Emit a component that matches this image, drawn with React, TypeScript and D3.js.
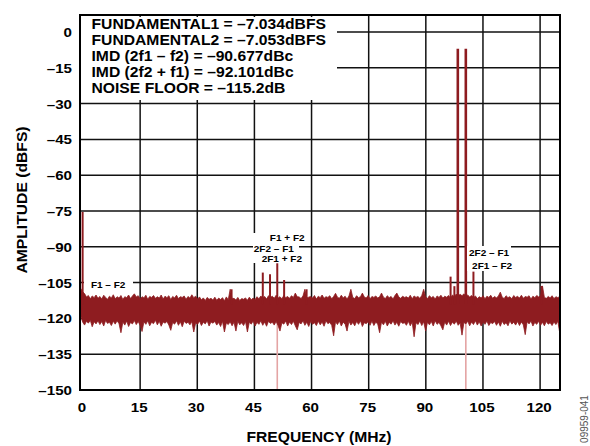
import React from "react";
import * as d3 from "d3";

// ---------- data ----------
const xTicks = [0, 15, 30, 45, 60, 75, 90, 105, 120];
const yTicks = [0, -15, -30, -45, -60, -75, -90, -105, -120, -135, -150];

const statsLines = [
  "FUNDAMENTAL1 = \u20137.034dBFS",
  "FUNDAMENTAL2 = \u20137.053dBFS",
  "IMD (2f1 \u2013 f2) = \u201390.677dBc",
  "IMD (2f2 + f1) = \u201392.101dBc",
  "NOISE FLOOR = \u2013115.2dB",
];

// noise floor envelope, sampled every ~0.5 MHz from -0.6 MHz
const NOISE_F0 = -0.6;
const NOISE_DF = 0.503;
const noiseHi = [
  -107.5, -108.8, -109.6, -111.0, -110.4, -111.8, -110.6, -111.3, -110.2, -111.6,
  -110.8, -111.9, -110.3, -111.2, -112.0, -110.7, -111.4, -110.1, -111.8, -110.9,
  -111.5, -110.4, -112.1, -110.9, -111.3, -110.2, -111.7, -110.6, -109.7, -111.0,
  -110.5, -111.8, -110.9, -111.4, -110.3, -112.0, -110.8, -111.2, -110.4, -111.6,
  -110.9, -111.5, -110.2, -111.9, -110.7, -111.3, -110.5, -112.1, -110.8, -111.4,
  -110.3, -111.7, -110.9, -111.2, -110.6, -112.0, -110.8, -111.5, -110.1, -111.3,
  -110.7, -111.9, -111.0, -112.2, -111.4, -112.5, -111.2, -112.0, -111.6, -112.3,
  -111.1, -112.4, -111.5, -112.1, -111.3, -112.6, -111.0, -112.2, -107.8, -111.8,
  -111.6, -112.3, -111.2, -112.5, -111.7, -112.0, -111.4, -112.4, -111.1, -112.2,
  -111.5, -112.1, -110.9, -111.8, -110.6, -111.4, -110.8, -111.9, -110.5, -111.2,
  -110.7, -111.6, -110.3, -111.5, -110.9, -111.8, -110.4, -111.3, -110.8, -111.6,
  -110.5, -111.2, -109.4, -110.9, -111.0, -111.7, -110.6, -107.8, -111.4, -111.1,
  -110.8, -111.5, -110.4, -111.9, -110.7, -111.3, -110.2, -111.6, -110.9, -111.2,
  -110.5, -111.8, -110.8, -109.5, -111.1, -111.6, -110.3, -111.4, -110.7, -111.9,
  -110.6, -107.8, -111.2, -111.7, -110.5, -111.3, -110.9, -109.4, -111.0, -111.5,
  -110.4, -111.8, -110.8, -111.2, -110.6, -111.5, -110.9, -109.4, -111.1, -111.7,
  -110.5, -111.3, -110.8, -111.9, -110.4, -109.4, -111.0, -111.6, -110.7, -111.2,
  -110.9, -111.5, -110.3, -111.8, -110.6, -111.2, -110.8, -111.6, -110.4, -107.8,
  -111.0, -111.7, -110.5, -111.3, -110.8, -111.9, -110.6, -111.2, -110.3, -111.5,
  -110.7, -111.1, -110.4, -111.6, -110.2, -110.9, -109.8, -110.6, -109.9, -110.5,
  -109.7, -110.8, -110.2, -111.0, -110.4, -111.3, -110.6, -111.7, -110.9, -111.4,
  -110.5, -111.8, -110.7, -111.2, -110.3, -111.6, -110.8, -111.4, -110.6, -109.0,
  -111.1, -111.7, -110.5, -111.3, -110.9, -111.8, -110.4, -111.2, -110.7, -111.5,
  -110.3, -111.6, -110.8, -111.1, -110.5, -111.9, -110.7, -111.3, -110.4, -111.0,
  -110.6, -106.4, -111.2, -111.6, -110.8, -111.4, -110.5, -111.7, -110.9, -111.3,
  -110.8,
];
const noiseLo = [
  -119.0, -121.5, -122.8, -121.2, -122.0, -120.8, -123.5, -121.4, -122.3, -121.0,
  -122.6, -121.3, -123.2, -120.9, -122.1, -121.6, -123.0, -121.2, -122.4, -121.0,
  -122.2, -126.0, -121.5, -122.8, -121.1, -123.4, -121.7, -122.3, -120.9, -122.6,
  -121.3, -122.9, -125.5, -121.4, -122.5, -121.0, -123.1, -121.6, -122.2, -120.8,
  -122.7, -121.2, -123.3, -121.5, -122.0, -121.3, -122.8, -125.0, -121.7, -122.4,
  -121.0, -122.9, -121.4, -123.5, -121.2, -122.1, -121.6, -122.7, -121.3, -125.7,
  -121.8, -122.5, -121.1, -123.0, -121.6, -122.3, -121.0, -123.2, -121.5, -122.0,
  -121.3, -122.8, -121.7, -123.4, -121.2, -125.7, -121.9, -122.6, -121.4, -123.1,
  -121.6, -125.3, -121.2, -122.7, -121.8, -123.0, -121.3, -125.7, -121.6, -122.4,
  -121.1, -123.2, -121.7, -122.5, -121.0, -122.9, -121.5, -123.3, -121.2, -122.1,
  -121.6, -122.8, -121.3, -123.0, -125.3, -121.8, -122.4, -121.1, -123.2, -121.5,
  -122.6, -121.2, -123.1, -124.8, -121.7, -122.3, -121.0, -122.9, -121.6, -123.4,
  -121.3, -122.5, -121.8, -123.0, -121.2, -122.7, -121.5, -123.3, -121.0, -122.2,
  -121.7, -122.9, -127.3, -121.4, -122.6, -121.1, -123.2, -121.6, -122.4, -125.3,
  -121.2, -122.8, -121.7, -123.1, -121.3, -122.5, -121.0, -123.4, -121.8, -122.2,
  -121.4, -122.9, -121.1, -123.0, -121.6, -122.3, -126.0, -121.5, -122.7, -121.2,
  -123.2, -121.7, -122.4, -121.0, -122.8, -121.6, -123.3, -121.3, -122.1, -121.8,
  -122.9, -121.2, -123.1, -121.5, -127.7, -121.8, -122.6, -121.1, -123.0, -121.4,
  -125.3, -121.6, -122.7, -121.3, -123.2, -121.0, -122.5, -121.7, -123.1, -124.8,
  -121.5, -122.8, -121.2, -123.0, -121.6, -122.4, -121.1, -122.9, -121.8, -127.0,
  -121.7, -122.3, -121.2, -123.1, -121.5, -122.6, -121.0, -122.8, -121.4, -123.2,
  -121.6, -122.5, -121.1, -123.0, -121.7, -122.2, -121.3, -122.9, -121.5, -123.3,
  -121.2, -122.6, -121.8, -123.1, -121.0, -122.4, -121.6, -122.8, -121.3, -123.0,
  -121.5, -122.7, -126.8, -121.4, -122.3, -121.1, -123.2, -121.7, -122.5, -121.2,
  -122.9, -121.6, -123.1, -121.3, -122.4, -121.8, -123.0, -121.5, -122.6, -121.2,
  -126.0,
];

// discrete spurs (MHz, dBFS)
const spurFreqs = [-0.1, 39.0, 47.2, 49.1, 51.0, 52.8, 58.7, 96.5, 97.5, 102.5, 120.4];
const spurLevels = [-75.4, -107.8, -100.8, -101.5, -96.9, -103.9, -107.8, -102.5, -106.5, -100.4, -106.4];
const fundFreqs = [98.4, 100.5];
const fundLevels = [-7.034, -7.053];
const markerFreqs = [51.0, 100.5];

const labelTexts = ["F1 \u2013 F2", "F1 + F2", "2F2 \u2013 F1", "2F1 + F2", "2F2 \u2013 F1", "2F1 \u2013 F2"];
const labelFreqs = [6.6, 53.6, 50.1, 52.2, 106.6, 107.4];
const labelLevels = [-106.0, -86.3, -90.7, -95.1, -92.5, -97.9];

// ---------- layout ----------
const W = 590, H = 446;
const L = 80, R = 560, T = 15, B = 390;
const RED = "#8e1c20";
const PINK = "#e4a4a4";
const FONT = "'Liberation Sans', Arial, Helvetica, sans-serif";

const x = d3.scaleLinear().domain([0, 120]).range([83, 540.1]);
const y = d3.scaleLinear().domain([-150, 0]).range([B, 32]);

type TP = { x: number; y: number; size: number; anchor?: string; sx?: number; rot?: number; weight?: string; fill?: string; children: React.ReactNode };
const ST = ({ x: tx, y: ty, size, anchor = "start", sx = 1.12, rot = 0, weight = "bold", fill = "#000", children }: TP) => (
  <g transform={`translate(${tx},${ty}) rotate(${rot}) scale(${sx},1)`}>
    <text textAnchor={anchor as any} fontSize={size} fontWeight={weight} fontFamily={FONT} fill={fill}>
      {children}
    </text>
  </g>
);

export default function App() {
  const noise = noiseHi.map((h, i) => ({ f: NOISE_F0 + i * NOISE_DF, hi: h, lo: noiseLo[i] }));
  const area = d3
    .area<{ f: number; hi: number; lo: number }>()
    .x((d) => x(d.f))
    .y0((d) => y(d.lo))
    .y1((d) => y(d.hi));

  return (
    <svg width={W} height={H} style={{ position: "absolute", left: 0, top: 0, background: "#fff" }}>
      <defs>
        <clipPath id="plot">
          <rect x={L} y={T} width={R - L} height={B - T} />
        </clipPath>
      </defs>
      <rect x={0} y={0} width={W} height={H} fill="#fff" />
      {/* grid */}
      {xTicks.slice(1).map((t) => (
        <line key={"vx" + t} x1={x(t)} x2={x(t)} y1={T} y2={B} stroke="#111" strokeWidth={1.5} />
      ))}
      {yTicks.slice(0, -1).map((t) => (
        <line key={"hy" + t} x1={L} x2={R} y1={y(t)} y2={y(t)} stroke="#111" strokeWidth={1.5} />
      ))}
      <g clipPath="url(#plot)">
        {markerFreqs.map((f) => (
          <line key={"m" + f} x1={x(f)} x2={x(f)} y1={y(-150)} y2={y(-112)} stroke={PINK} strokeWidth={1.6} />
        ))}
        <path d={area(noise) || ""} fill={RED} stroke={RED} strokeWidth={0.8} strokeLinejoin="bevel" />
        {spurFreqs.map((f, i) => (
          <line key={"s" + i} x1={x(f)} x2={x(f)} y1={y(-114)} y2={y(spurLevels[i])} stroke={RED} strokeWidth={2} />
        ))}
        {fundFreqs.map((f, i) => (
          <line key={"fd" + i} x1={x(f)} x2={x(f)} y1={y(-114)} y2={y(fundLevels[i])} stroke={RED} strokeWidth={2.6} />
        ))}
      </g>
      {/* stats box */}
      <rect x={81} y={17} width={256} height={83} fill="#fff" />
      {statsLines.map((s, i) => (
        <ST key={s} x={91.5} y={28.5 + i * 16} size={14}>
          {s}
        </ST>
      ))}
      {/* spur labels */}
      <rect x={84} y={279} width={49} height={12} fill="#fff" />
      <rect x={253} y={233} width={46} height={30} fill="#fff" />
      <rect x={467} y={246} width={44} height={25} fill="#fff" />
      {labelTexts.map((s, i) => (
        <ST key={"l" + i} x={x(labelFreqs[i])} y={y(labelLevels[i]) + 3.3} size={9.2} sx={1.09} anchor="middle">
          {s}
        </ST>
      ))}
      {/* frame */}
      <rect x={L} y={T} width={R - L} height={B - T} fill="none" stroke="#000" strokeWidth={2} />
      {/* tick labels */}
      {yTicks.map((t) => (
        <ST key={"yl" + t} x={72} y={y(t) + 5} size={13.5} anchor="end">
          {t === 0 ? "0" : "\u2013" + Math.abs(t)}
        </ST>
      ))}
      {xTicks.map((t) => (
        <ST key={"xl" + t} x={x(t) - 1} y={412} size={13.5} anchor="middle">
          {String(t)}
        </ST>
      ))}
      <ST x={319} y={441.5} size={14} anchor="middle">
        FREQUENCY (MHz)
      </ST>
      <ST x={27} y={200} size={14} anchor="middle" rot={-90}>
        AMPLITUDE (dBFS)
      </ST>
      <ST x={588} y={419} size={10} anchor="middle" rot={-90} sx={1} weight="normal" fill="#555">
        09959-041
      </ST>
    </svg>
  );
}
